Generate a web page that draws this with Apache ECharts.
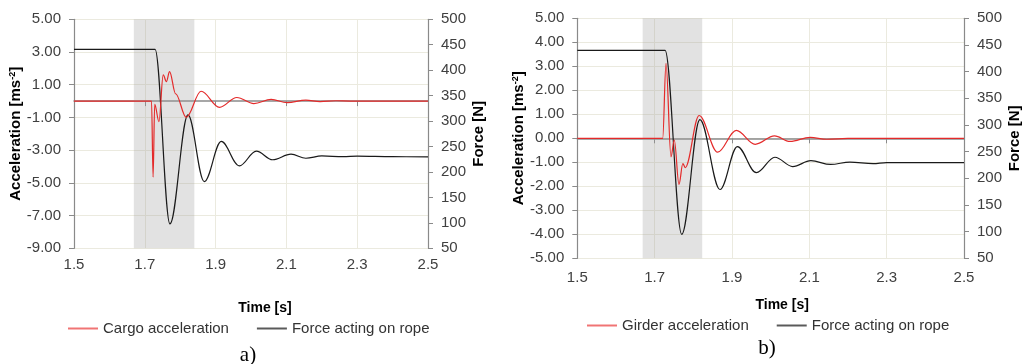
<!DOCTYPE html>
<html>
<head>
<meta charset="utf-8">
<script src="https://cdn.jsdelivr.net/npm/echarts@6/dist/echarts.min.js"></script>
<style>
  html, body { margin: 0; padding: 0; background: #fff; }
  #chart { width: 1032px; height: 364px; }
</style>
</head>
<body>
<div id="chart"></div>
<script>
// values (time in s, acceleration in m/s2, force in N)
const timeLimits = [1.5, 2.5]
const timeStep = 0.2
const forceLimits = [50, 500]
const forceStep = 50
const accLimitsA = [-9, 5]
const accStepA = 2
const accLimitsB = [-5, 5]
const accStepB = 1

// panel a)
const cargoTime = [1.5, 1.719, 1.7234, 1.728, 1.740, 1.752, 1.761, 1.770, 1.787, 1.817, 1.859, 1.911, 1.960, 2.008, 2.057, 2.102, 2.155, 2.195, 2.24, 2.28, 2.5]
const cargoAcc = [0, 0, -4.65, -0.2, -1.26, 1.6, 1.19, 1.8, 0.45, -0.99, 0.6, -0.38, 0.22, -0.15, 0.1, -0.09, 0.06, -0.03, 0.02, 0, 0]
const ropeTimeA = [1.5, 1.729, 1.771, 1.822, 1.868, 1.916, 1.967, 2.015, 2.061, 2.113, 2.155, 2.2, 2.26, 2.3, 2.4, 2.5]
const ropeForceA = [441, 441, 98, 312, 181, 260, 212, 241, 224, 235, 227, 231.5, 230, 231, 230, 229.5]
const shadeA = [1.669, 1.84]

// panel b)
const girderTime = [1.5, 1.7208, 1.7294, 1.7423, 1.7508, 1.763, 1.773, 1.779, 1.815, 1.863, 1.911, 1.960, 2.010, 2.050, 2.102, 2.145, 2.2, 2.5]
const girderAcc = [0, 0, 3.12, -0.77, -0.07, -1.92, -1.05, -1.22, 0.95, -0.58, 0.33, -0.25, 0.1, -0.13, 0.04, -0.04, 0, 0]
const ropeTimeB = [1.5, 1.727, 1.770, 1.817, 1.869, 1.914, 1.963, 2.011, 2.057, 2.104, 2.155, 2.205, 2.265, 2.3, 2.5]
const ropeForceB = [440, 440, 95, 310, 179, 259.5, 210.5, 239.5, 222, 233, 226, 230.5, 227.5, 229.5, 229.5]
const shadeB = [1.669, 1.823]

const FONT = '"Liberation Sans", Arial, sans-serif'
const AXIS_GREY = '#8a8a8a'
const GRID_LINE = '#ebeadf'
const RED = '#e42a2a'
const BLACK = '#1a1a1a'

const zip = (xs, ys) => xs.map((x, i) => [x, ys[i]])

const panels = [
  {
    grid: { left: 74, top: 19.3, width: 354, height: 229 },
    acc: { limits: accLimitsA, step: accStepA },
    accName: 'Cargo acceleration',
    accData: zip(cargoTime, cargoAcc),
    forceData: zip(ropeTimeA, ropeForceA),
    shade: shadeA,
    timeGap: 53,
    timePad: 28,
    legend: { left: 68, top: 321 },
    tag: { text: 'a)', x: 248, y: 355 }
  },
  {
    grid: { left: 577.3, top: 18.3, width: 386.7, height: 240 },
    acc: { limits: accLimitsB, step: accStepB },
    accName: 'Girder acceleration',
    accData: zip(girderTime, girderAcc),
    forceData: zip(ropeTimeB, ropeForceB),
    shade: shadeB,
    timeGap: 40,
    timePad: 23,
    legend: { left: 587, top: 318 },
    tag: { text: 'b)', x: 767, y: 348 }
  }
]

const labelStyle = { color: '#404040', fontSize: 15, fontFamily: FONT }
const nameStyle = { color: '#000', fontSize: 15, fontWeight: 'bold', fontFamily: FONT }

const getOption = () => {
  const option = {
    animation: false,
    backgroundColor: '#fff',
    grid: [],
    xAxis: [],
    yAxis: [],
    series: [],
    legend: [],
    graphic: []
  }

  panels.forEach((p, i) => {
    option.grid.push({ ...p.grid, containLabel: false, outerBoundsMode: 'none' })

    // bottom axis: labels, name and vertical grid lines
    option.xAxis.push({
      type: 'value',
      gridIndex: i,
      position: 'bottom',
      min: timeLimits[0],
      max: timeLimits[1],
      interval: timeStep,
      axisLine: { show: false, onZero: false },
      axisTick: { show: false },
      axisLabel: { ...labelStyle, margin: i === 0 ? 9 : 12, formatter: v => v.toFixed(1) },
      splitLine: { show: true, lineStyle: { color: GRID_LINE, width: 1 } },
      name: 'Time [s]',
      nameLocation: 'middle',
      nameGap: p.timeGap,
      nameMoveOverlap: false,
      nameTextStyle: { ...nameStyle, fontSize: 14, padding: [0, 0, 0, p.timePad] }
    })
    // zero line of the acceleration axis with its ticks
    option.xAxis.push({
      type: 'value',
      gridIndex: i,
      position: 'bottom',
      min: timeLimits[0],
      max: timeLimits[1],
      interval: timeStep,
      axisLine: { show: true, onZero: true, lineStyle: { color: AXIS_GREY, width: 1.5 } },
      axisTick: { show: true, inside: false, length: 5, lineStyle: { color: AXIS_GREY } },
      axisLabel: { show: false },
      splitLine: { show: false }
    })

    option.yAxis.push({
      type: 'value',
      gridIndex: i,
      position: 'left',
      min: p.acc.limits[0],
      max: p.acc.limits[1],
      interval: p.acc.step,
      axisLine: { show: true, onZero: false, lineStyle: { color: AXIS_GREY, width: 1.2 } },
      axisTick: { show: true, inside: false, length: 5, lineStyle: { color: AXIS_GREY } },
      axisLabel: { ...labelStyle, margin: 13, formatter: v => v.toFixed(2) },
      splitLine: { show: true, lineStyle: { color: GRID_LINE, width: 1 } },
      name: 'Acceleration [ms{sup|-2}]',
      nameLocation: 'middle',
      nameRotate: 90,
      nameGap: 50,
      nameMoveOverlap: false,
      nameTextStyle: {
        ...nameStyle,
        rich: {
          sup: { fontSize: 9, fontWeight: 'bold', fontFamily: FONT, color: '#000', verticalAlign: 'top', lineHeight: 16 }
        }
      }
    })
    option.yAxis.push({
      type: 'value',
      gridIndex: i,
      position: 'right',
      min: forceLimits[0],
      max: forceLimits[1],
      interval: forceStep,
      axisLine: { show: true, onZero: false, lineStyle: { color: AXIS_GREY, width: 1.2 } },
      axisTick: { show: true, inside: false, length: 5, lineStyle: { color: AXIS_GREY } },
      axisLabel: { ...labelStyle, margin: 13 },
      splitLine: { show: false },
      name: 'Force [N]',
      nameLocation: 'middle',
      nameRotate: 90,
      nameGap: 43,
      nameMoveOverlap: false,
      nameTextStyle: nameStyle
    })

    const xi = i * 2
    const yi = i * 2

    // grey band marking the impact window
    option.series.push({
      type: 'line',
      xAxisIndex: xi,
      yAxisIndex: yi,
      data: [],
      silent: true,
      z: 1,
      markArea: {
        silent: true,
        itemStyle: { color: 'rgba(160, 160, 160, 0.3)' },
        data: [[{ xAxis: p.shade[0] }, { xAxis: p.shade[1] }]]
      }
    })
    option.series.push({
      name: 'Force acting on rope',
      type: 'line',
      xAxisIndex: xi,
      yAxisIndex: yi + 1,
      data: p.forceData,
      color: BLACK,
      symbol: 'none',
      showSymbol: false,
      smooth: 0.36,
      smoothMonotone: 'x',
      lineStyle: { color: BLACK, width: 1.2 },
      z: 3
    })
    option.series.push({
      name: p.accName,
      type: 'line',
      xAxisIndex: xi,
      yAxisIndex: yi,
      data: p.accData,
      color: RED,
      symbol: 'none',
      showSymbol: false,
      smooth: 0.36,
      smoothMonotone: 'x',
      lineStyle: { color: RED, width: 1.2 },
      z: 4
    })

    option.legend.push({
      ...p.legend,
      padding: 0,
      orient: 'horizontal',
      icon: 'rect',
      data: [
        { name: p.accName, itemStyle: { color: '#f07474' } },
        { name: 'Force acting on rope', itemStyle: { color: '#5a5a5a' } }
      ],
      itemWidth: 30,
      itemHeight: 2,
      itemGap: 28,
      selectedMode: false,
      textStyle: { color: '#333', fontSize: 15, fontFamily: FONT }
    })

    option.graphic.push({
      type: 'text',
      x: p.tag.x,
      y: p.tag.y,
      style: {
        text: p.tag.text,
        font: '21px "Liberation Serif", "Times New Roman", serif',
        fill: '#000',
        textAlign: 'center',
        textVerticalAlign: 'middle'
      }
    })
  })

  return option
}

const chart = echarts.init(document.getElementById('chart'))
chart.setOption(getOption())
</script>
</body>
</html>
